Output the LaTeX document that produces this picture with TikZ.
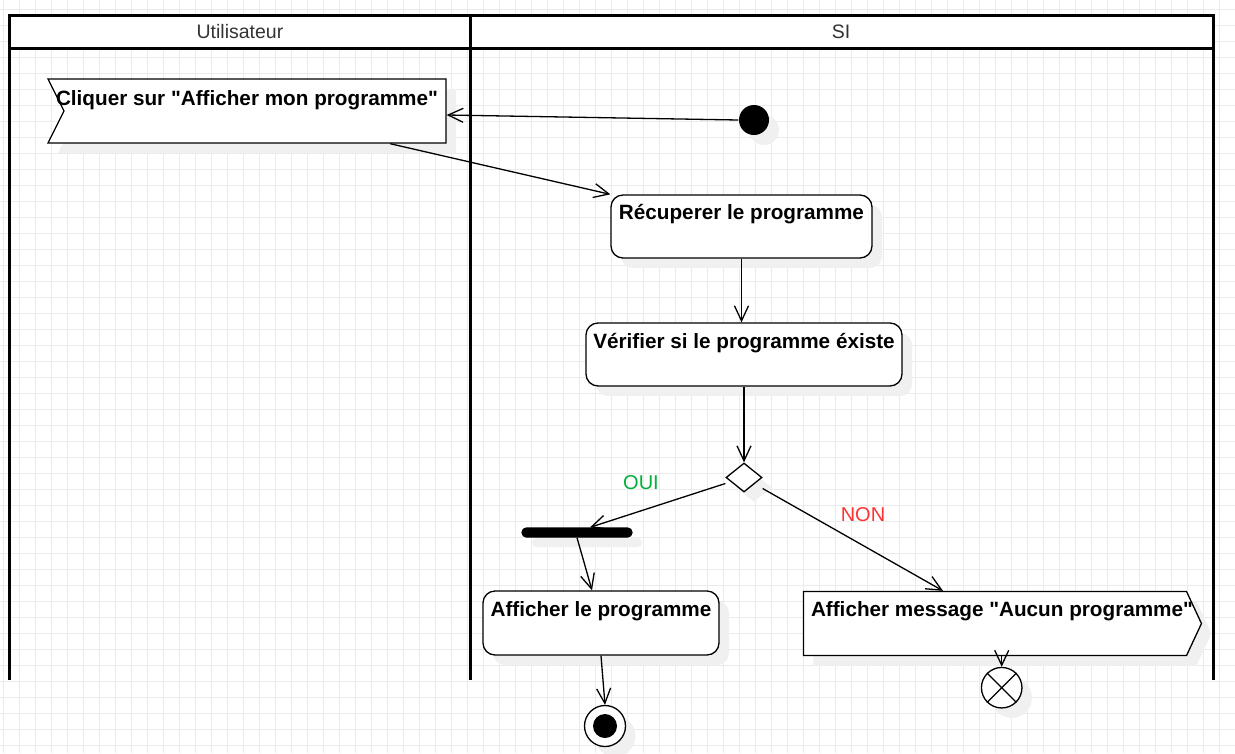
\documentclass[tikz,border=0pt]{standalone}
\usepackage{fontspec}
\setmainfont{Liberation Sans}[Ligatures=TeXOff]
\usetikzlibrary{arrows.meta,shapes.geometric,shapes.symbols,shadows}
\definecolor{ouigreen}{RGB}{0,176,56}
\definecolor{nonred}{RGB}{255,51,51}

\begin{document}
\begin{tikzpicture}[x=1pt,y=-1pt,line width=1.3pt,
  >={Straight Barb[length=15pt,width=14pt]},
  dropsh/.style={drop shadow={shadow xshift=10pt,shadow yshift=-10pt,fill=black!6,opacity=1}},
  act/.style={draw,fill=white,rounded corners=12pt,inner sep=0pt,dropsh},
  sig/.style={signal,draw,fill=white,inner sep=0pt,minimum height=64pt,dropsh},
  txt/.style={font=\fontsize{20.7}{24}\selectfont\bfseries,inner sep=0pt,anchor=base},
  hdr/.style={font=\fontsize{19.5}{23}\selectfont,text=black!80,inner sep=0pt},
  guard/.style={font=\fontsize{20}{24}\selectfont,inner sep=0pt},
  lane/.style={line width=3pt}]
\useasboundingbox (0,0) rectangle (1235,753);

% grid
\foreach \i in {0,...,77} \draw[black!8,line width=1pt] (3.3+16*\i,0) -- (3.3+16*\i,753);
\foreach \j in {0,...,46} \draw[black!8,line width=1pt] (0,9.3+16*\j) -- (1235,9.3+16*\j);

% swimlanes
\fill[white] (9,15) rectangle (1213,48);
\draw[lane] (9,680) -- (9,15) -- (1213,15) -- (1213,680);
\draw[lane] (9,48) -- (1213,48);
\draw[lane] (470,15) -- (470,680);
\node[hdr] (user) at (240,31.5) {Utilisateur};
\node[hdr] (si) at (841,31.5) {SI};

% activities
\node[circle,fill,minimum size=30pt,inner sep=0pt,dropsh] (start) at (754,120) {};
\node[sig,signal from=west,signal to=nowhere,signal pointer angle=127,minimum width=398pt] (click) at (255,111) {};
\node[act,minimum width=261pt,minimum height=63pt] (recup) at (741.5,226.5) {};
\node[act,minimum width=316pt,minimum height=63pt] (verif) at (744,354.5) {};
\node[diamond,draw,fill=white,minimum width=36pt,minimum height=29pt,inner sep=0pt,dropsh] (dec) at (744,477.5) {};
\node[draw,fill,rounded corners=4.5pt,minimum width=110pt,minimum height=9pt,inner sep=0pt,dropsh] (fork) at (577,532.5) {};
\node[act,minimum width=236pt,minimum height=64pt] (show) at (601,623) {};
\node[sig,signal to=east,signal pointer angle=130,minimum width=398pt] (msg) at (995,623.5) {};
\node[circle,draw,fill=white,minimum size=41pt,inner sep=0pt,dropsh] (stop) at (605,726) {};
\node[circle,fill,minimum size=24pt,inner sep=0pt] (stopdot) at (stop) {};
\node[circle,draw,fill=white,minimum size=40.5pt,inner sep=0pt,dropsh] (flowend) at (1001.7,687.7) {};
\draw (flowend.north west) -- (flowend.south east) (flowend.north east) -- (flowend.south west);

\node[txt] (clicktxt) at ([xshift=-8pt,yshift=-27pt]click.north) {Cliquer sur "Afficher mon programme"};
\node[txt] (recuptxt) at ([yshift=-25pt]recup.north) {Récuperer le programme};
\node[txt] (veriftxt) at ([yshift=-26.5pt]verif.north) {Vérifier si le programme éxiste};
\node[txt] (showtxt) at ([yshift=-26.5pt]show.north) {Afficher le programme};
\node[txt] (msgtxt) at ([xshift=7pt,yshift=-26pt]msg.north) {Afficher message "Aucun programme"};

\node[guard,text=ouigreen] (oui) at (641,483) {OUI};
\node[guard,text=nonred] (non) at (863,515) {NON};

% flows
\draw[->] (start.west) -- ([yshift=-4pt]click.east);
\draw[->] ([xshift=135pt]click.south) -- (recup.north west);
\draw[->] (recup.south) -- (recup.south |- verif.north);
\draw[->] (verif.south) -- (dec.north);
\draw[->] ([yshift=-6pt]dec.west) -- ([xshift=13pt]fork.north);
\draw[->] (fork.south) -- ([xshift=-9pt]show.north);
\draw[->] (show.south) -- (stop.north);
\draw[->] ([yshift=-11pt]dec.east) -- ([xshift=-52pt]msg.north);
\draw[->] (flowend.north |- msg.south) -- (flowend.north);
\end{tikzpicture}
\end{document}
